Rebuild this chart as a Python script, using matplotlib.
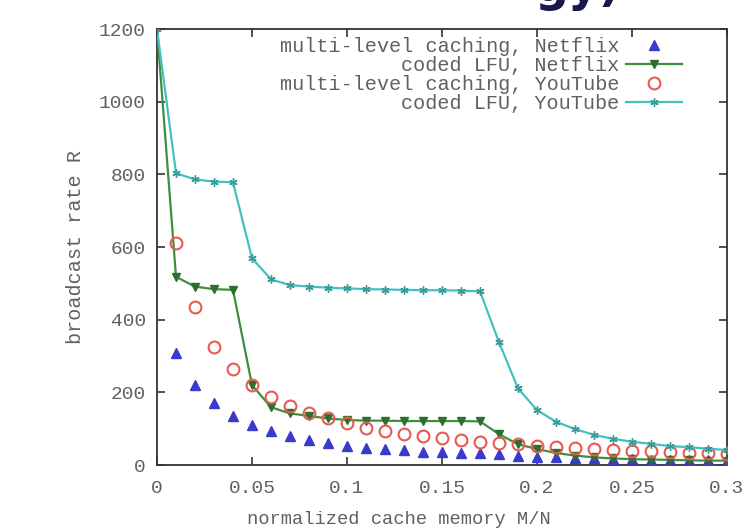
import matplotlib
matplotlib.use("Agg")
import matplotlib.pyplot as plt

# ---- data ----
x_lfu = [0.00, 0.01, 0.02, 0.03, 0.04, 0.05, 0.06, 0.07, 0.08, 0.09, 0.10,
         0.11, 0.12, 0.13, 0.14, 0.15, 0.16, 0.17, 0.18, 0.19, 0.20,
         0.21, 0.22, 0.23, 0.24, 0.25, 0.26, 0.27, 0.28, 0.29, 0.30]
x_ml = x_lfu[1:]

ml_netflix = [307, 220, 171, 135, 110, 94, 79, 69, 60, 53,
              48, 43, 40, 37, 36, 34, 32, 29, 26, 23,
              21, 19, 18, 17, 16, 15, 14, 13, 13, 12]
lfu_netflix = [1200, 518, 491, 484, 482, 220, 159, 142, 135, 128, 124,
               122, 122, 121, 121, 121, 121, 120, 85, 57, 44,
               33, 26, 21, 18, 16, 15, 14, 13, 12, 12]
ml_youtube = [610, 436, 324, 263, 220, 188, 162, 142, 128, 115,
              101, 93, 86, 80, 75, 69, 64, 60, 57, 53,
              50, 47, 44, 41, 39, 38, 36, 34, 32, 30]
lfu_youtube = [1200, 803, 786, 780, 778, 569, 511, 495, 491, 488, 486,
               484, 483, 482, 481, 481, 480, 478, 338, 211, 151,
               119, 99, 83, 72, 64, 58, 52, 49, 45, 41]

labels = ["multi-level caching, Netflix", "coded LFU, Netflix",
          "multi-level caching, YouTube", "coded LFU, YouTube"]
xticks = [0, 0.05, 0.1, 0.15, 0.2, 0.25, 0.3]
xticklabels = ["0", "0.05", "0.1", "0.15", "0.2", "0.25", "0.3"]
yticks = [0, 200, 400, 600, 800, 1000, 1200]

# ---- figure ----
W, H = 746, 531
fig = plt.figure(figsize=(W / 100, H / 100), dpi=100)
ax = fig.add_axes([157 / W, 1 - 465 / H, (727 - 157) / W, (465 - 29) / H])

mono = "Liberation Mono"
tc = "#606060"

ax.plot(x_ml, ml_netflix, linestyle="none", marker="^", markersize=7,
        color="#3a3acc", label=labels[0], zorder=3)
ax.plot(x_lfu, lfu_netflix, linestyle="-", linewidth=1.6, color="#3f8f3f",
        marker="v", markersize=5.5, markerfacecolor="#2e6e2e",
        markeredgecolor="#2e6e2e", label=labels[1], zorder=4)
ax.plot(x_ml, ml_youtube, linestyle="none", marker="o", markersize=8.5,
        markerfacecolor="none", markeredgecolor="#e85a50", markeredgewidth=1.5,
        label=labels[2], zorder=5)
ax.plot(x_lfu, lfu_youtube, linestyle="-", linewidth=1.6, color="#45c0c0",
        marker=(6, 2, 0), markersize=6, markeredgecolor="#3a9a9a",
        label=labels[3], zorder=6)

ax.set_xlim(0, 0.3)
ax.set_ylim(0, 1200)
ax.set_xticks(xticks)
ax.set_xticklabels(xticklabels)
ax.set_yticks(yticks)
ax.tick_params(direction="in", top=True, right=True, length=6, width=1.2,
               color="#333333", labelcolor=tc, labelsize=14, pad=8)
ax.tick_params(axis="x", pad=11)
for lbl in ax.get_xticklabels() + ax.get_yticklabels():
    lbl.set_fontfamily(mono)
for s in ax.spines.values():
    s.set_color("#333333")
    s.set_linewidth(1.3)

ax.set_ylabel("broadcast rate R", fontfamily=mono, fontsize=14.5, color=tc,
              labelpad=10)
fig.text(399 / W, 1 - 520 / H, "normalized cache memory M/N", fontfamily=mono,
         fontsize=13.5, color=tc, ha="center", va="center")

leg = ax.legend(loc="upper right", bbox_to_anchor=(692 / W, 1 - 27 / H),
                bbox_transform=fig.transFigure, frameon=False,
                markerfirst=False, handlelength=2.8, handletextpad=0.3,
                labelspacing=0.0, borderpad=0,
                prop={"family": mono, "size": 14.5})
for t in leg.get_texts():
    t.set_color(tc)

fig.text(535 / W, 1 - 1 / H, "gy)", fontsize=34, fontweight="bold",
         color="#1a1a4a", va="baseline", ha="left")

fig.savefig("out.png", dpi=100)
